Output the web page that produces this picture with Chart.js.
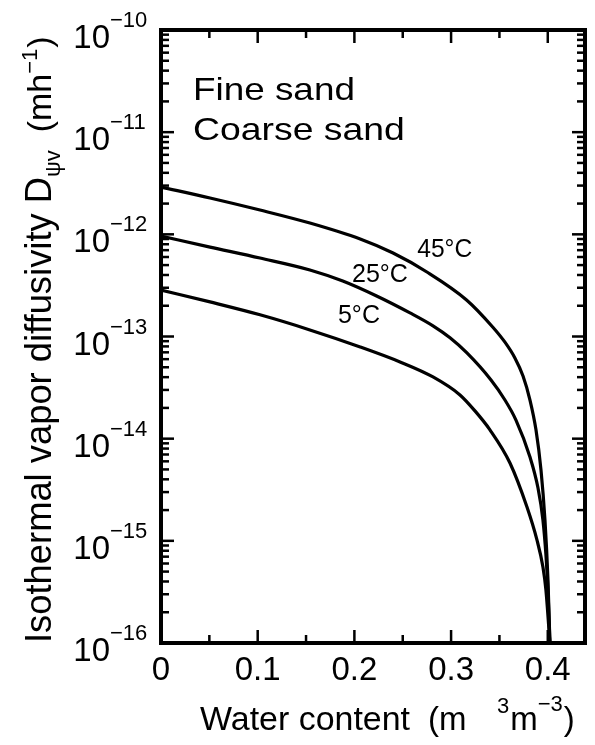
<!DOCTYPE html>
<html>
<head>
<meta charset="utf-8">
<script src="https://cdn.jsdelivr.net/npm/chart.js@4.4.0/dist/chart.umd.min.js"></script>
<style>
  html, body { margin: 0; padding: 0; background: #fff; }
</style>
</head>
<body>
<canvas id="chart" width="595" height="745"></canvas>
<script>
// water content (m3 m-3) and diffusivity (m h-1)
const theta45 = [0, 0.0507, 0.1024, 0.154, 0.206, 0.240, 0.275, 0.316, 0.343, 0.3557, 0.366, 0.3744, 0.3816, 0.3878, 0.393, 0.3971, 0.4002, 0.4022];
const dv45 = [2.9e-12, 2.27e-12, 1.73e-12, 1.29e-12, 9.0e-13, 6.56e-13, 4.28e-13, 2.28e-13, 1.24e-13, 8.8e-14, 6.17e-14, 4.1e-14, 2.39e-14, 1.22e-14, 4.93e-15, 1.6e-15, 4.14e-16, 1e-16];

const theta25 = [0, 0.0507, 0.1024, 0.154, 0.188, 0.223, 0.2575, 0.2813, 0.2989, 0.3164, 0.3413, 0.3557, 0.3671, 0.3816, 0.3899, 0.395, 0.3981, 0.4002, 0.4022];
const dv25 = [9.6e-13, 7.5e-13, 5.86e-13, 4.48e-13, 3.49e-13, 2.49e-13, 1.7e-13, 1.27e-13, 9.7e-14, 6.9e-14, 3.75e-14, 2.39e-14, 1.52e-14, 6.62e-15, 3.29e-15, 1.6e-15, 7.3e-16, 3.3e-16, 1e-16];

const theta5 = [0, 0.0507, 0.1024, 0.154, 0.206, 0.2472, 0.2813, 0.3092, 0.3247, 0.3402, 0.3609, 0.3785, 0.3888, 0.395, 0.3981, 0.4022];
const dv5 = [2.85e-13, 2.18e-13, 1.63e-13, 1.16e-13, 7.9e-14, 5.64e-14, 4.02e-14, 2.68e-14, 1.87e-14, 1.22e-14, 5.78e-15, 2.14e-15, 1.02e-15, 5.55e-16, 3.3e-16, 1e-16];

const seriesNames = ["45°C", "25°C", "5°C"];
const xMajor = [0, 0.1, 0.2, 0.3, 0.4];
const xMinor = [0.05, 0.15, 0.25, 0.35];
const xTickLabels = ["0", "0.1", "0.2", "0.3", "0.4"];
const yExponents = [-10, -11, -12, -13, -14, -15, -16];

const FONT = '"Liberation Sans", Arial, Helvetica, sans-serif';

function toPoints(xs, ys) {
  return xs.map((v, i) => ({ x: v, y: ys[i] }));
}

function fitText(ctx, text, x, y, width, size) {
  ctx.font = size + "px " + FONT;
  const w = ctx.measureText(text).width;
  ctx.save();
  ctx.translate(x, y);
  ctx.scale(width / w, 1);
  ctx.textAlign = "left";
  ctx.fillText(text, 0, 0);
  ctx.restore();
}

// draws text pieces one after the other along a baseline
function richText(ctx, parts, x, y) {
  let cx = x;
  parts.forEach(p => {
    ctx.font = p.size + "px " + FONT;
    cx += p.gap || 0;
    ctx.fillText(p.text, cx, y + (p.dy || 0));
    cx += ctx.measureText(p.text).width;
  });
}

const paperAxes = {
  id: "paperAxes",
  afterDraw(chart) {
    const { ctx, chartArea: a } = chart;
    const xs = chart.scales.x, ys = chart.scales.y;
    ctx.save();
    ctx.strokeStyle = "#000";
    ctx.fillStyle = "#000";
    ctx.lineCap = "butt";

    // ticks, pointing inwards on all four sides
    ctx.lineWidth = 2.5;
    const tick = (x1, y1, x2, y2) => { ctx.beginPath(); ctx.moveTo(x1, y1); ctx.lineTo(x2, y2); ctx.stroke(); };
    xMajor.forEach(v => {
      const px = xs.getPixelForValue(v);
      tick(px, a.bottom, px, a.bottom - 13);
      tick(px, a.top, px, a.top + 13);
    });
    xMinor.forEach(v => {
      const px = xs.getPixelForValue(v);
      tick(px, a.bottom, px, a.bottom - 8);
      tick(px, a.top, px, a.top + 8);
    });
    yExponents.forEach(e => {
      const py = ys.getPixelForValue(Math.pow(10, e));
      tick(a.left, py, a.left + 13, py);
      tick(a.right, py, a.right - 13, py);
      if (e > -16) {
        for (let m = 2; m <= 9; m++) {
          const pm = ys.getPixelForValue(m * Math.pow(10, e - 1));
          tick(a.left, pm, a.left + 8, pm);
          tick(a.right, pm, a.right - 8, pm);
        }
      }
    });

    // frame
    ctx.lineWidth = 4;
    ctx.strokeRect(a.left, a.top, a.right - a.left, a.bottom - a.top);

    // y tick labels 10^n
    yExponents.forEach(e => {
      const py = ys.getPixelForValue(Math.pow(10, e));
      ctx.font = "33px " + FONT;
      ctx.textAlign = "right";
      ctx.fillText("10", 110, py + 18);
      ctx.textAlign = "left";
      ctx.font = "22px " + FONT;
      ctx.fillText("\u2212" + Math.abs(e), 110, py - 3);
    });

    // x tick labels
    ctx.font = "33px " + FONT;
    ctx.textAlign = "center";
    xMajor.forEach((v, i) => {
      ctx.fillText(xTickLabels[i], xs.getPixelForValue(v), 680);
    });
    ctx.textAlign = "left";

    // x title
    fitText(ctx, "Water content", 200, 730, 210, 33);
    richText(ctx, [{ text: "(m", size: 33 }], 428, 730);
    richText(ctx, [
      { text: "3", size: 22, dy: -17 },
      { text: "m", size: 33, gap: 1 },
      { text: "\u22123", size: 22, dy: -19 },
      { text: ")", size: 33, gap: 1 }
    ], 497, 730);

    // y title, rotated
    ctx.save();
    ctx.translate(51, 643);
    ctx.rotate(-Math.PI / 2);
    fitText(ctx, "Isothermal vapor diffusivity D", 0, 0, 466, 36);
    richText(ctx, [
      { text: "\u03C8v", size: 22, dy: 9 },
      { text: "(mh", size: 34, gap: 18 },
      { text: "\u22121", size: 22, dy: -14 },
      { text: ")", size: 34, gap: 1 }
    ], 466, 0);
    ctx.restore();

    // in-plot annotations anchored in data space
    ctx.textAlign = "left";
    fitText(ctx, "Fine sand", xs.getPixelForValue(0.033), ys.getPixelForValue(2.07e-11), 162, 32);
    fitText(ctx, "Coarse sand", xs.getPixelForValue(0.033), ys.getPixelForValue(8.4e-12), 212, 32);
    fitText(ctx, seriesNames[0], xs.getPixelForValue(0.265), ys.getPixelForValue(6.0e-13), 55, 26);
    fitText(ctx, seriesNames[1], xs.getPixelForValue(0.1975), ys.getPixelForValue(3.4e-13), 56, 26);
    fitText(ctx, seriesNames[2], xs.getPixelForValue(0.183), ys.getPixelForValue(1.35e-13), 42, 26);

    ctx.restore();
  }
};

const lineStyle = {
  borderColor: "#000",
  borderWidth: 3.2,
  pointRadius: 0,
  fill: false,
  cubicInterpolationMode: "monotone"
};

new Chart(document.getElementById("chart"), {
  type: "line",
  data: {
    datasets: [
      { label: seriesNames[0], data: toPoints(theta45, dv45), ...lineStyle },
      { label: seriesNames[1], data: toPoints(theta25, dv25), ...lineStyle },
      { label: seriesNames[2], data: toPoints(theta5, dv5), ...lineStyle }
    ]
  },
  options: {
    responsive: false,
    devicePixelRatio: 1,
    animation: false,
    layout: { padding: { left: 161, right: 10, top: 30, bottom: 102 } },
    plugins: {
      legend: { display: false },
      tooltip: { enabled: false }
    },
    scales: {
      x: { type: "linear", min: 0, max: 0.4385, display: false },
      y: { type: "logarithmic", min: 1e-16, max: 1e-10, display: false }
    }
  },
  plugins: [paperAxes]
});
</script>
</body>
</html>
